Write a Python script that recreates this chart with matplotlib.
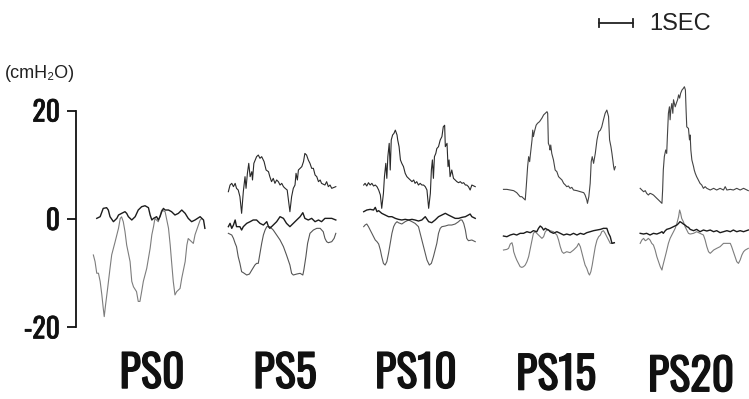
import numpy as np
import matplotlib
matplotlib.use("Agg")
import matplotlib.pyplot as plt
import matplotlib.patheffects as pe
from matplotlib import font_manager

# ---------------- data (time in s, pressure in cmH2O) ----------------
panel_labels = ["PS0", "PS5", "PS10", "PS15", "PS20"]
label_t = [2.24, 6.15, 10.0, 14.12, 18.09]
label_v = [-28.6, -28.6, -28.6, -28.9, -29.2]

y_ticks = [-20, 0, 20]
y_tick_labels = ["-20", "0", "20"]
y_unit = "(cmH\u2082O)"
scale_text = "1SEC"
scale_bar_start = 15.38
scale_bar_len = 1.0
scale_bar_level = 36.2

# PS0
ps0_dark = [(0.61, 0.12), (0.71, 0.43), (0.80, 1.96), (0.90, 2.09), (0.95, 1.66), (1.00, 0.43),
            (1.10, -0.49), (1.20, 0.12), (1.25, 0.74), (1.34, 1.04), (1.44, 1.35), (1.49, 1.04),
            (1.54, 0.43), (1.64, -0.18), (1.74, 0.43), (1.83, 1.66), (1.93, 2.27), (2.03, 2.45),
            (2.13, 2.09), (2.18, 0.74), (2.23, -0.18), (2.28, 0.12), (2.37, 0.43), (2.42, -0.18),
            (2.47, 0.43), (2.52, 1.35), (2.57, 1.96), (2.62, 1.66), (2.72, 1.66), (2.81, 1.35),
            (2.91, 0.74), (3.01, 1.04), (3.11, 1.66), (3.21, 1.04), (3.30, 0.12), (3.40, -0.49),
            (3.50, -0.18), (3.65, 0.43), (3.70, 0.12), (3.75, -0.18), (3.79, -1.72)]
ps0_gray = [(0.51, -6.63), (0.56, -7.85), (0.61, -10.0), (0.66, -10.0), (0.71, -11.5), (0.76, -14.0),
            (0.80, -16.4), (0.83, -18.0), (0.87, -15.8), (0.93, -12.8), (1.00, -9.1), (1.05, -6.6),
            (1.15, -4.2), (1.25, -1.7), (1.30, 0.1), (1.34, 0.4), (1.39, -0.5), (1.44, -2.3),
            (1.49, -4.8), (1.59, -7.85), (1.64, -11.5), (1.69, -12.5), (1.78, -13.4), (1.83, -15.2),
            (1.88, -15.2), (1.93, -13.4), (1.98, -11.5), (2.08, -9.1), (2.18, -5.4), (2.23, -2.9),
            (2.28, -1.4), (2.32, 0.1), (2.42, -0.5), (2.52, 1.66), (2.62, 1.35), (2.72, -1.7),
            (2.77, -4.8), (2.81, -7.85), (2.86, -11.5), (2.91, -14.0), (2.96, -13.4), (3.06, -12.8),
            (3.11, -10.9), (3.21, -7.85), (3.26, -4.8), (3.30, -3.6), (3.40, -4.2), (3.45, -4.5),
            (3.50, -2.9), (3.60, -1.1), (3.65, -0.2), (3.70, 0.1)]

# PS5
ps5_top = [(4.48, 5.04), (4.53, 6.27), (4.58, 6.58), (4.63, 5.97), (4.68, 6.58), (4.72, 5.66),
           (4.77, 5.35), (4.82, 4.12), (4.87, 1.05), (4.92, 5.04), (4.97, 7.81), (5.00, 5.66),
           (5.04, 8.43), (5.08, 10.27), (5.12, 7.81), (5.17, 8.73), (5.19, 7.20), (5.23, 10.27),
           (5.31, 11.5), (5.36, 11.8), (5.41, 11.2), (5.46, 11.5), (5.53, 10.6), (5.59, 9.04),
           (5.66, 8.73), (5.70, 7.81), (5.75, 6.89), (5.80, 7.50), (5.85, 6.58), (5.90, 7.20),
           (5.95, 6.89), (6.00, 6.27), (6.05, 6.58), (6.10, 5.97), (6.15, 5.66), (6.21, 5.35),
           (6.29, 1.35), (6.34, 4.12), (6.39, 5.66), (6.44, 6.27), (6.47, 8.43), (6.51, 7.20),
           (6.54, 9.04), (6.59, 9.35), (6.64, 9.66), (6.69, 10.6), (6.73, 12.1), (6.78, 11.8),
           (6.83, 10.9), (6.88, 10.27), (6.93, 9.35), (6.98, 9.35), (7.03, 8.12), (7.08, 7.81),
           (7.13, 6.89), (7.18, 7.20), (7.22, 6.58), (7.32, 6.27), (7.37, 6.89), (7.42, 5.97),
           (7.47, 6.27), (7.52, 5.66), (7.64, 5.97)]
ps5_dark = [(4.48, -1.41), (4.53, -0.80), (4.58, -1.72), (4.63, -1.11), (4.68, -0.18), (4.72, -1.41),
            (4.77, -1.41), (4.82, -1.41), (4.87, -2.03), (4.92, -1.41), (5.02, -0.80), (5.12, -0.49),
            (5.21, -0.18), (5.31, -0.18), (5.41, -0.80), (5.51, -1.11), (5.61, -0.49), (5.66, -1.41),
            (5.70, -1.72), (5.80, -1.11), (5.90, -0.49), (6.00, 0.43), (6.10, 0.12), (6.19, -0.80),
            (6.29, -1.41), (6.39, -0.80), (6.49, -0.18), (6.59, 0.43), (6.67, 1.17), (6.73, 0.12),
            (6.83, -0.18), (6.93, 0.12), (7.03, -0.49), (7.13, -0.18), (7.22, -0.49), (7.32, 0.12),
            (7.42, 0.12), (7.52, 0.12), (7.64, -0.18)]
ps5_gray = [(4.48, -2.64), (4.58, -2.95), (4.63, -3.57), (4.68, -4.49), (4.72, -5.10), (4.77, -6.95),
            (4.82, -8.18), (4.87, -9.72), (4.92, -9.90), (5.02, -10.33), (5.10, -10.15), (5.17, -9.41),
            (5.26, -8.49), (5.31, -8.18), (5.36, -8.18), (5.41, -6.33), (5.46, -4.49), (5.51, -2.95),
            (5.56, -2.03), (5.61, -1.41), (5.70, -1.41), (5.80, -2.03), (5.90, -2.95), (6.00, -3.87),
            (6.10, -5.10), (6.19, -6.64), (6.29, -8.49), (6.34, -10.02), (6.39, -10.33), (6.49, -10.15),
            (6.59, -10.02), (6.67, -10.33), (6.70, -9.41), (6.76, -6.95), (6.81, -4.49), (6.88, -2.64),
            (6.98, -2.03), (7.08, -1.72), (7.18, -1.72), (7.27, -2.34), (7.32, -3.57), (7.37, -4.18),
            (7.42, -4.37), (7.52, -4.18), (7.59, -3.57), (7.64, -2.64)]

# PS10
ps10_top = [(8.46, 6.27), (8.50, 6.58), (8.55, 6.09), (8.60, 6.70), (8.65, 6.27), (8.70, 6.58),
            (8.75, 6.09), (8.80, 6.27), (8.85, 5.97), (8.90, 5.35), (8.95, 4.43), (8.99, 1.97),
            (9.04, 4.74), (9.07, 7.81), (9.11, 10.27), (9.14, 7.50), (9.17, 11.5), (9.21, 13.96),
            (9.24, 9.04), (9.27, 14.58), (9.31, 15.5), (9.35, 15.8), (9.39, 16.4), (9.44, 15.5),
            (9.46, 14.58), (9.50, 13.35), (9.54, 10.9), (9.58, 10.27), (9.63, 9.66), (9.68, 8.43),
            (9.73, 7.81), (9.78, 7.50), (9.83, 7.20), (9.88, 6.89), (9.93, 7.20), (9.97, 6.58),
            (10.02, 6.89), (10.07, 6.27), (10.12, 6.58), (10.17, 6.27), (10.22, 6.27), (10.27, 5.97),
            (10.32, 5.35), (10.37, 1.97), (10.42, 4.74), (10.45, 9.04), (10.48, 10.9), (10.51, 7.50),
            (10.54, 11.5), (10.58, 12.1), (10.61, 13.0), (10.66, 13.35), (10.71, 14.58), (10.76, 15.2),
            (10.80, 17.0), (10.84, 17.3), (10.86, 13.35), (10.91, 13.96), (10.94, 9.66), (10.97, 10.9),
            (11.00, 7.81), (11.05, 9.04), (11.10, 7.50), (11.15, 7.20), (11.20, 6.89), (11.25, 6.70),
            (11.30, 6.89), (11.35, 6.58), (11.40, 6.70), (11.45, 6.27), (11.49, 6.27), (11.54, 5.97),
            (11.59, 5.35), (11.64, 6.27), (11.74, 5.97)]
ps10_dark_t = [8.46, 8.55, 8.65, 8.75, 8.80, 8.85, 8.90, 8.99, 9.09, 9.19, 9.29, 9.39, 9.48, 9.58,
               9.68, 9.78, 9.88, 9.97, 10.07, 10.17, 10.27, 10.37, 10.46, 10.56, 10.66, 10.76, 10.86,
               10.95, 11.05, 11.15, 11.25, 11.35, 11.45, 11.54, 11.59, 11.64, 11.74]
ps10_dark_v = [1.35, 1.66, 1.78, 1.66, 2.15, 1.35, 1.54, 1.05, 0.74, 0.43, 0.43, 0.12, -0.06, -0.18,
               -0.06, -0.18, -0.06, -0.18, -0.37, -0.18, 0.43, -0.49, -0.68, -0.18, 0.43, 0.74, 1.05,
               0.74, 0.43, 0.12, 0.12, 0.31, 0.43, 0.74, 0.92, 0.43, 0.12]
ps10_gray_t = [8.46, 8.50, 8.55, 8.60, 8.65, 8.70, 8.75, 8.80, 8.85, 8.90, 8.95, 8.99, 9.04, 9.09,
               9.14, 9.19, 9.24, 9.29, 9.34, 9.39, 9.44, 9.48, 9.53, 9.58, 9.68, 9.78, 9.88, 9.97,
               10.07, 10.12, 10.17, 10.22, 10.27, 10.32, 10.39, 10.45, 10.51, 10.56, 10.61, 10.66,
               10.71, 10.76, 10.86, 10.95, 11.05, 11.15, 11.25, 11.30, 11.35, 11.40, 11.45, 11.49,
               11.54, 11.64, 11.74]
ps10_gray_v = [-1.41, -1.11, -0.92, -1.41, -2.03, -2.64, -3.26, -3.87, -4.18, -4.61, -5.72, -6.95,
               -8.18, -8.49, -7.87, -6.33, -4.49, -2.64, -1.41, -0.80, -0.49, -0.68, -0.80, -0.92,
               -0.49, -0.18, -0.49, -0.80, -1.41, -2.64, -3.87, -5.10, -6.33, -7.56, -8.49, -8.18,
               -6.95, -5.72, -4.49, -2.64, -1.72, -1.41, -1.29, -1.11, -1.11, -0.92, -0.49, -0.18,
               -0.18, -0.80, -2.03, -3.57, -4.00, -3.87, -4.18]

# PS15
ps15_top = [(12.57, 5.47), (12.67, 5.47), (12.77, 5.35), (12.87, 5.23), (12.96, 4.86), (13.06, 4.12),
            (13.11, 4.12), (13.16, 3.81), (13.21, 3.51), (13.24, 5.97), (13.28, 9.66), (13.31, 11.5),
            (13.34, 10.58), (13.36, 11.8), (13.41, 14.6), (13.43, 16.4), (13.45, 15.2), (13.48, 16.1),
            (13.53, 17.3), (13.57, 17.65), (13.63, 17.96), (13.70, 18.6), (13.75, 19.2), (13.80, 19.5),
            (13.85, 19.8), (13.87, 19.5), (13.89, 13.96), (13.93, 13.35), (13.94, 12.73), (13.96, 13.65),
            (13.99, 12.1), (14.04, 10.9), (14.09, 9.04), (14.14, 8.73), (14.19, 7.81), (14.24, 7.50),
            (14.29, 7.20), (14.34, 6.58), (14.39, 6.27), (14.43, 5.97), (14.48, 6.09), (14.53, 5.66),
            (14.58, 5.84), (14.63, 5.35), (14.73, 5.23), (14.83, 5.04), (14.93, 4.86), (14.97, 4.43),
            (15.02, 3.51), (15.04, 2.89), (15.08, 4.12), (15.12, 6.58), (15.15, 10.58), (15.18, 11.5),
            (15.22, 10.27), (15.27, 12.1), (15.32, 14.6), (15.37, 16.1), (15.42, 16.4), (15.46, 17.0),
            (15.51, 18.3), (15.56, 19.5), (15.61, 20.1), (15.66, 18.9), (15.69, 14.6), (15.73, 13.35),
            (15.76, 12.1), (15.81, 9.66), (15.83, 9.04), (15.86, 9.66)]
ps15_dark_t = [12.57, 12.67, 12.77, 12.87, 12.96, 13.06, 13.16, 13.26, 13.36, 13.45, 13.55, 13.60,
               13.65, 13.70, 13.75, 13.80, 13.85, 13.90, 13.94, 14.04, 14.14, 14.24, 14.34, 14.43,
               14.53, 14.63, 14.73, 14.83, 14.93, 15.02, 15.12, 15.22, 15.32, 15.42, 15.51, 15.61,
               15.66, 15.71, 15.76, 15.83]
ps15_dark_v = [-3.14, -3.26, -2.95, -2.77, -2.95, -2.64, -2.64, -2.34, -2.52, -2.15, -2.34, -1.72,
               -1.29, -1.54, -2.03, -1.72, -1.91, -2.03, -2.34, -2.64, -2.34, -2.64, -2.95, -2.77,
               -2.95, -2.64, -2.95, -2.64, -2.83, -2.52, -2.34, -2.15, -2.03, -1.91, -1.72, -1.72,
               -2.64, -3.26, -4.49, -4.37]
ps15_gray_t = [12.57, 12.67, 12.72, 12.77, 12.82, 12.85, 12.87, 12.92, 12.96, 13.01, 13.06, 13.11,
               13.16, 13.21, 13.26, 13.31, 13.36, 13.41, 13.45, 13.50, 13.55, 13.60, 13.65, 13.70,
               13.75, 13.80, 13.85, 13.94, 14.04, 14.14, 14.19, 14.24, 14.29, 14.34, 14.43, 14.53,
               14.63, 14.73, 14.78, 14.83, 14.88, 14.93, 14.97, 15.02, 15.07, 15.10, 15.14, 15.18,
               15.22, 15.27, 15.32, 15.37, 15.42, 15.46, 15.51, 15.56, 15.61, 15.66, 15.71, 15.76, 15.83]
ps15_gray_v = [-5.72, -5.60, -5.41, -4.61, -4.37, -5.10, -6.03, -6.95, -7.56, -8.18, -8.79, -8.92,
               -8.79, -8.49, -7.87, -6.95, -5.41, -3.87, -2.64, -2.34, -2.64, -2.95, -3.26, -3.57,
               -3.26, -2.34, -2.03, -2.15, -2.34, -2.95, -3.87, -5.10, -6.03, -6.33, -6.03, -6.21,
               -5.72, -5.10, -4.49, -5.10, -6.33, -7.56, -8.49, -9.10, -10.02, -10.33, -9.72, -8.49,
               -6.95, -5.10, -3.87, -3.26, -2.95, -2.34, -2.15, -2.64, -3.26, -3.87, -4.49, -4.49, -4.37]

# PS20
ps20_top = [(16.59, 5.66), (16.64, 5.35), (16.69, 5.04), (16.74, 5.23), (16.78, 4.74), (16.83, 4.43),
            (16.88, 4.74), (16.93, 4.61), (16.98, 4.43), (17.03, 4.12), (17.08, 3.81), (17.13, 3.51),
            (17.18, 3.20), (17.23, 2.89), (17.25, 5.35), (17.27, 9.04), (17.30, 11.5), (17.34, 12.73),
            (17.37, 12.1), (17.39, 15.2), (17.42, 19.5), (17.45, 20.7), (17.47, 18.3), (17.49, 20.1),
            (17.52, 21.3), (17.55, 19.5), (17.57, 22.0), (17.62, 20.7), (17.65, 21.3), (17.69, 22.0),
            (17.72, 22.9), (17.75, 22.3), (17.78, 23.2), (17.82, 23.8), (17.86, 24.1), (17.89, 24.4),
            (17.92, 23.8), (17.94, 20.1), (17.96, 17.0), (18.01, 16.7), (18.04, 14.6), (18.06, 15.5),
            (18.08, 12.73), (18.11, 10.9), (18.16, 9.66), (18.18, 9.04), (18.21, 8.43), (18.25, 7.81),
            (18.30, 7.20), (18.35, 6.58), (18.40, 6.27), (18.45, 5.66), (18.50, 5.97), (18.55, 5.66),
            (18.65, 5.35), (18.75, 5.66), (18.84, 5.35), (18.94, 5.66), (19.04, 5.35), (19.09, 5.97),
            (19.14, 5.35), (19.24, 5.47), (19.33, 5.35), (19.43, 5.66), (19.53, 5.35), (19.63, 5.66),
            (19.77, 5.23)]
ps20_dark_t = [16.59, 16.69, 16.78, 16.88, 16.98, 17.08, 17.18, 17.23, 17.27, 17.32, 17.37, 17.47,
               17.57, 17.67, 17.72, 17.76, 17.81, 17.86, 17.91, 17.96, 18.01, 18.06, 18.16, 18.25,
               18.35, 18.45, 18.55, 18.65, 18.75, 18.84, 18.94, 19.04, 19.14, 19.24, 19.33, 19.43,
               19.53, 19.63, 19.77]
ps20_dark_v = [-2.64, -2.77, -2.64, -2.95, -2.64, -2.77, -2.52, -2.34, -2.64, -2.21, -1.91, -1.72,
               -1.41, -1.11, -0.80, -0.49, -0.68, -0.92, -1.11, -1.41, -1.54, -1.91, -2.15, -1.91,
               -2.34, -2.03, -2.21, -2.03, -2.34, -2.15, -2.52, -2.34, -2.15, -2.34, -2.03, -2.34,
               -2.15, -2.34, -2.03]
ps20_gray_t = [16.59, 16.64, 16.69, 16.74, 16.78, 16.83, 16.88, 16.93, 16.98, 17.03, 17.08, 17.13,
               17.18, 17.23, 17.25, 17.30, 17.35, 17.42, 17.47, 17.52, 17.57, 17.62, 17.67, 17.72,
               17.75, 17.78, 17.81, 17.86, 17.91, 17.96, 18.01, 18.06, 18.16, 18.25, 18.35, 18.45,
               18.50, 18.55, 18.60, 18.65, 18.70, 18.75, 18.84, 18.94, 19.04, 19.14, 19.24, 19.28,
               19.33, 19.38, 19.43, 19.48, 19.53, 19.58, 19.63, 19.68, 19.77]
ps20_gray_v = [-4.49, -3.87, -3.57, -4.00, -3.87, -3.57, -3.87, -4.49, -4.80, -5.72, -6.95, -7.87,
               -8.79, -9.41, -8.79, -7.56, -6.33, -4.49, -3.57, -2.95, -2.34, -1.72, -0.80, 0.43,
               1.66, 1.05, 0.12, -0.49, -1.41, -2.03, -2.64, -2.77, -2.64, -2.34, -2.64, -2.95,
               -3.87, -5.10, -6.03, -6.33, -6.03, -5.72, -5.41, -5.10, -4.49, -4.49, -4.49, -5.10,
               -6.03, -6.95, -7.87, -8.18, -7.56, -6.64, -6.03, -5.72, -5.41]

# ---------------- fonts ----------------
avail = {f.name for f in font_manager.fontManager.ttflist}
narrow = "Liberation Sans"
for cand in ["Oswald", "Roboto Condensed", "Barlow Condensed", "Archivo Narrow",
             "Liberation Sans Narrow"]:
    if cand in avail:
        narrow = cand
        break
plain = ["Liberation Sans", "DejaVu Sans"]
embolden_big = [pe.withStroke(linewidth=0.9, foreground="#111111")]
embolden_small = [pe.withStroke(linewidth=0.5, foreground="#111111")]

# ---------------- figure ----------------
fig = plt.figure(figsize=(7.49, 3.99), dpi=100)
ax = fig.add_axes([0, 0, 1, 1])
ax.set_xlim(-2.235, 19.79)
ax.set_ylim(-33.2, 40.4)
ax.patch.set_visible(False)

for s in ["top", "right", "bottom"]:
    ax.spines[s].set_visible(False)
ax.spines["left"].set_position(("data", 0))
ax.spines["left"].set_bounds(-20, 20)
ax.spines["left"].set_linewidth(1.3)
ax.spines["left"].set_color("#111111")
ax.set_xticks([])
ax.set_yticks(y_ticks, labels=y_tick_labels)
ax.tick_params(axis="y", direction="out", length=6.5, width=1.3, pad=5,
               colors="#111111", labelsize=20)
for lab in ax.get_yticklabels():
    lab.set_fontfamily(narrow)
    lab.set_fontweight("bold")
    lab.set_path_effects(embolden_small)

dark_kw = dict(color="#1c1c1c", lw=1.0, solid_joinstyle="round")
top_kw = dict(color="#2a2a2a", lw=0.8, solid_joinstyle="round")
gray_kw = dict(color="#7d7d7d", lw=0.8, solid_joinstyle="round")


def draw_pairs(pairs, kw):
    arr = np.array(pairs)
    ax.plot(arr[:, 0], arr[:, 1], **kw)


draw_pairs(ps0_gray, gray_kw)
draw_pairs(ps0_dark, dark_kw)

draw_pairs(ps5_gray, dict(gray_kw, color="#555555"))
draw_pairs(ps5_dark, dark_kw)
draw_pairs(ps5_top, top_kw)

ax.plot(ps10_gray_t, ps10_gray_v, **dict(gray_kw, color="#5a5a5a"))
ax.plot(ps10_dark_t, ps10_dark_v, **dark_kw)
draw_pairs(ps10_top, top_kw)

ax.plot(ps15_gray_t, ps15_gray_v, **gray_kw)
ax.plot(ps15_dark_t, ps15_dark_v, **dark_kw)
draw_pairs(ps15_top, dict(top_kw, color="#444444"))

ax.plot(ps20_gray_t, ps20_gray_v, **gray_kw)
ax.plot(ps20_dark_t, ps20_dark_v, **dark_kw)
draw_pairs(ps20_top, dict(top_kw, color="#444444"))

# panel labels
for lab, t, v in zip(panel_labels, label_t, label_v):
    ax.text(t, v, lab, ha="center", va="center", fontsize=32, fontweight="bold",
            family=narrow, color="#111111", path_effects=embolden_big)

# unit label
ax.text(-2.1, 26.8, y_unit, ha="left", va="center", fontsize=13, family=plain, color="#222222")

# time scale bar
x0 = scale_bar_start
x1 = scale_bar_start + scale_bar_len
ax.plot([x0, x1], [scale_bar_level, scale_bar_level], color="#222222", lw=1.3)
ax.plot([x0, x0], [scale_bar_level - 0.7, scale_bar_level + 0.7], color="#222222", lw=1.3)
ax.plot([x1, x1], [scale_bar_level - 0.7, scale_bar_level + 0.7], color="#222222", lw=1.3)
ax.text(x1 + 0.48, scale_bar_level - 0.2, scale_text, ha="left", va="center", fontsize=17,
        family=plain, color="#222222")

fig.savefig("out.png", dpi=100)
